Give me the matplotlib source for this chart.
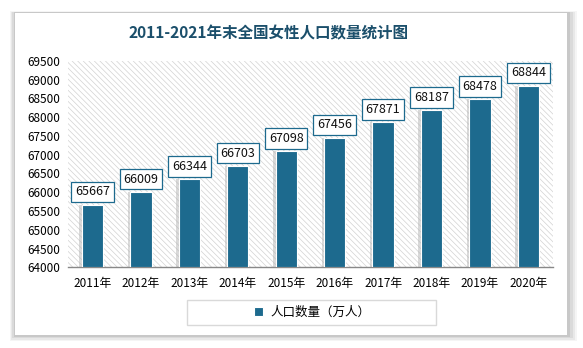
import matplotlib.pyplot as plt
from matplotlib.patches import Rectangle

plt.rcParams['font.family'] = ['Noto Sans CJK SC', 'DejaVu Sans']
plt.rcParams['hatch.linewidth'] = 0.5

years = ['2011年', '2012年', '2013年', '2014年', '2015年',
         '2016年', '2017年', '2018年', '2019年', '2020年']
female_pop = [65667, 66009, 66344, 66703, 67098, 67456, 67871, 68187, 68478, 68844]
y_ticks = list(range(64000, 69501, 500))

bar_color = '#1d6a8e'
title_color = '#1b4f6b'

fig = plt.figure(figsize=(5.83, 3.48), dpi=100)
fig.patch.set_facecolor('white')

# card with soft shadow
for i, a in enumerate([0.04, 0.05, 0.06, 0.08]):
    d = (4 - i) * 0.004
    fig.patches.append(Rectangle((0.026 - d * 0.6, 0.036 - d), 0.948 + d * 1.6, 0.928 + d * 1.2,
                                 transform=fig.transFigure, facecolor='black', alpha=a,
                                 edgecolor='none', zorder=-3))
fig.patches.append(Rectangle((0.026, 0.038), 0.947, 0.924, transform=fig.transFigure,
                             facecolor='white', edgecolor='none', zorder=-2))
# legend frame (wider than the entry, like the reference)
fig.patches.append(Rectangle((0.321, 0.066), 0.427, 0.072, transform=fig.transFigure,
                             facecolor='white', edgecolor='#d9d9d9', linewidth=1, zorder=-1))

ax = fig.add_axes([0.117, 0.232, 0.831, 0.593])
ax.set_zorder(2)
ax.set_facecolor('white')
ax.add_patch(Rectangle((0, 0), 1, 1, transform=ax.transAxes, facecolor='white',
                       edgecolor='#d2d2d2', linewidth=0, hatch='\\\\\\\\\\\\', zorder=0))

x = range(len(years))
# bar shadow
ax.bar([i - 0.05 for i in x], [v - 64000 for v in female_pop], bottom=64000, width=0.44,
       color='#b5b5b5', alpha=0.5, zorder=2, linewidth=0)
ax.bar(x, [v - 64000 for v in female_pop], bottom=64000, width=0.44,
       color=bar_color, edgecolor='white', linewidth=0.8, zorder=3, label='人口数量（万人）')

for i, v in zip(x, female_pop):
    ax.annotate(str(v), (i, v), xytext=(0, 4.5), textcoords='offset points',
                ha='center', va='bottom', fontsize=9, color='#111111', zorder=5,
                bbox=dict(boxstyle='square,pad=0.3', facecolor='white',
                          edgecolor=bar_color, linewidth=0.9))

ax.set_xlim(-0.5, 9.5)
ax.set_ylim(64000, 69500)
ax.set_yticks(y_ticks)
ax.set_yticklabels([str(t) for t in y_ticks], fontsize=8.5)
ax.set_xticks(list(x))
ax.set_xticklabels(years, fontsize=8.5)
ax.tick_params(length=0, pad=7)
ax.tick_params(axis='y', pad=6)
for s in ['top', 'right', 'left']:
    ax.spines[s].set_visible(False)
ax.spines['bottom'].set_color('#888888')
ax.spines['bottom'].set_linewidth(1)

fig.text(0.46, 0.905, '2011-2021年末全国女性人口数量统计图', ha='center', va='center',
         fontsize=11.2, fontweight='bold', color=title_color)

leg = fig.legend(loc='center', bbox_to_anchor=(0.535, 0.102), fontsize=9, frameon=False,
                 handlelength=0.7, handleheight=0.7, handletextpad=0.6)

fig.savefig('out.png', dpi=100)
